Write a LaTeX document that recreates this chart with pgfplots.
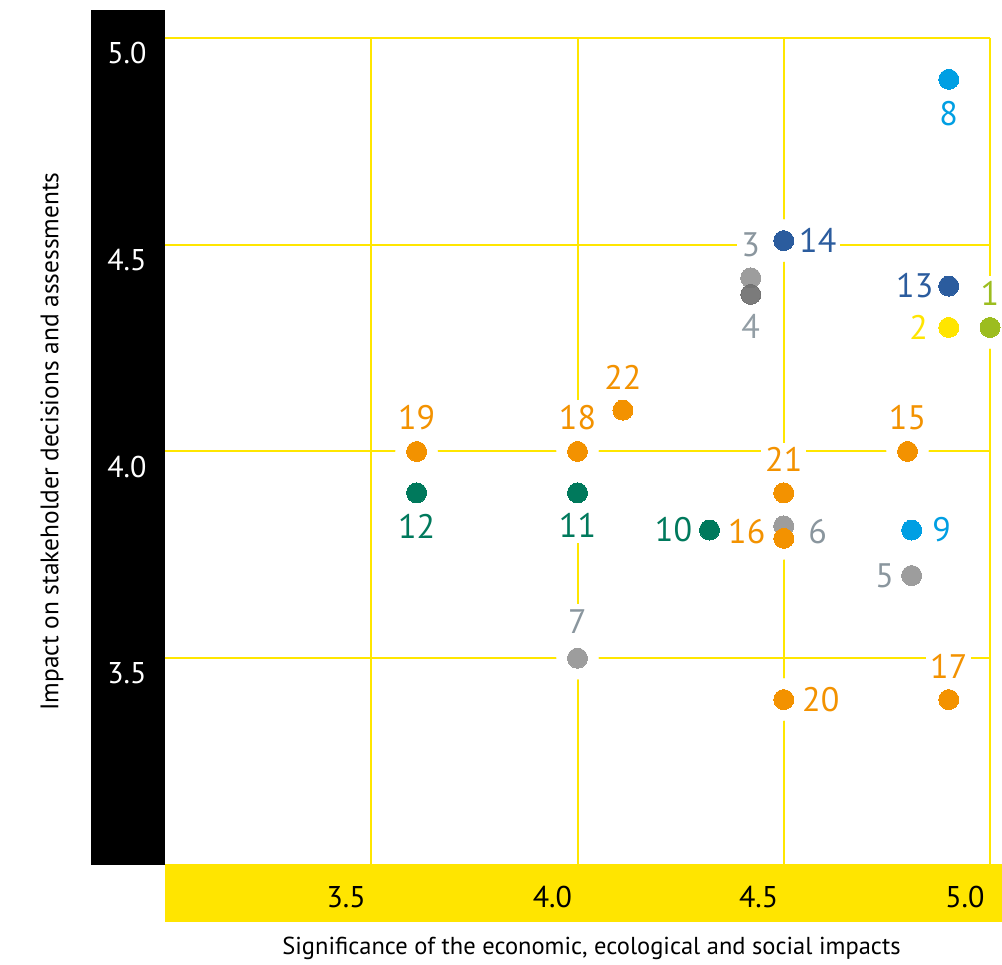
\documentclass[border=0pt]{standalone}
\usepackage{fontspec}
\setmainfont{PT Sans}
\usepackage{pgfplots}
\usepackage{pgfplotstable}
\pgfplotsset{compat=1.18}
\definecolor{cOrange}{HTML}{F39200}
\definecolor{cGray}{HTML}{9D9D9D}
\definecolor{cDGray}{HTML}{707070}
\definecolor{cSlate}{HTML}{8A969E}
\definecolor{cLBlue}{HTML}{009FE3}
\definecolor{cDBlue}{HTML}{2B5C9E}
\definecolor{cDGreen}{HTML}{00795C}
\definecolor{cYellow}{HTML}{FFE500}
\definecolor{cOlive}{HTML}{9CBD1F}
\definecolor{cGrid}{HTML}{FFE600}

% x y label dx dy (label offsets in pt)
\pgfplotstableread{
x y lab dx dy
4.80 4.00 15 0 34
4.50 3.79 16 -37 7
4.90 3.40 17 0 33
4.00 4.00 18 0 34
3.61 4.00 19 0 34
4.50 3.40 20 37 0
4.50 3.90 21 0 33
4.11 4.10 22 0 33
}\tOrange
\pgfplotstableread{
x y lab dx dy
4.42 4.42 3 0 33
4.81 3.70 5 -27 0
4.50 3.82 6 34 -6
4.00 3.50 7 0 37
}\tGray
\pgfplotstableread{
x y lab dx dy
4.42 4.38 4 0 -32
}\tDGray
\pgfplotstableread{
x y lab dx dy
4.90 4.90 8 0 -34
4.81 3.81 9 30 0
}\tLBlue
\pgfplotstableread{
x y lab dx dy
4.90 4.40 13 -34 0
4.50 4.51 14 34 0
}\tDBlue
\pgfplotstableread{
x y lab dx dy
4.32 3.81 10 -36 0
4.00 3.90 11 0 -33
3.61 3.90 12 0 -34
}\tDGreen
\pgfplotstableread{
x y lab dx dy
4.90 4.30 2 -30 0
}\tYel
\pgfplotstableread{
x y lab dx dy
5.00 4.30 1 0 34
}\tOlive

\pgfplotsset{
  pts/.style n args={2}{only marks, mark=*, mark size=10pt, color=#1,
    mark options={draw=#1, fill=#1, line width=0pt},
    nodes near coords, point meta=explicit symbolic,
    visualization depends on={\thisrow{dx} \as \ldx},
    visualization depends on={\thisrow{dy} \as \ldy},
    every node near coord/.append style={anchor=center, xshift=\ldx*1pt, yshift=\ldy*1pt,
      font=\fontsize{34}{36}\selectfont, text=#2, fill=white, inner xsep=4pt, inner ysep=5pt}},
  halo/.style={only marks, mark=*, mark size=21pt, color=white, mark options={draw=white, fill=white}},
}

\begin{document}
\begin{tikzpicture}[tl/.style={font=\fontsize{30}{32}\selectfont}]
\begin{axis}[
  name=a, at={(0,0)}, anchor=south west,
  hide axis,
  scale only axis, width=825pt, height=827pt,
  xmin=3, xmax=5, ymin=3, ymax=5,
  clip=false,
]
% bars
\fill[black] (axis cs:2.8206,3) rectangle (axis cs:3,5.0677);
\fill[cYellow] (axis cs:3,2.862) rectangle (axis cs:5.0291,3.002);
% grid lines
\draw[cGrid, line width=2pt] (axis cs:3,3.5) -- (axis cs:5,3.5);
\draw[cGrid, line width=2pt] (axis cs:3,4.0012) -- (axis cs:5,4.0012);
\draw[cGrid, line width=2pt] (axis cs:3,4.5) -- (axis cs:5,4.5);
\draw[cGrid, line width=2pt] (axis cs:3,5) -- (axis cs:5,5);
\draw[cGrid, line width=2pt] (axis cs:3.5,3) -- (axis cs:3.5,5);
\draw[cGrid, line width=2pt] (axis cs:4.0012,3) -- (axis cs:4.0012,5);
\draw[cGrid, line width=2pt] (axis cs:4.5,3) -- (axis cs:4.5,5);
\draw[cGrid, line width=2pt] (axis cs:5,3) -- (axis cs:5,5);
% tick labels
\node[tl, text=black, anchor=east] at ([xshift=-2pt,yshift=-32pt]axis cs:3.5,3) {3.5};
\node[tl, text=black, anchor=east] at ([xshift=-2pt,yshift=-32pt]axis cs:4,3) {4.0};
\node[tl, text=black, anchor=east] at ([xshift=-2pt,yshift=-32pt]axis cs:4.5,3) {4.5};
\node[tl, text=black, anchor=east] at ([xshift=-2pt,yshift=-32pt]axis cs:5,3) {5.0};
\node[tl, text=white, anchor=north east] at ([xshift=-15pt,yshift=-1pt]axis cs:3,3.5) {3.5};
\node[tl, text=white, anchor=north east] at ([xshift=-15pt,yshift=-1pt]axis cs:3,4) {4.0};
\node[tl, text=white, anchor=north east] at ([xshift=-15pt,yshift=-1pt]axis cs:3,4.5) {4.5};
\node[tl, text=white, anchor=north east] at ([xshift=-15pt,yshift=-1pt]axis cs:3,5) {5.0};
% axis titles
\node[font=\fontsize{24.5}{26}\selectfont] at ([yshift=-83pt]axis description cs:0.517,0) {Significance of the economic, ecological and social impacts};
\node[font=\fontsize{25.4}{27}\selectfont, rotate=90] at ([xshift=-113pt]axis description cs:0,0.512) {Impact on stakeholder decisions and assessments};
% halos
\addplot[halo] table[x=x,y=y] {\tOrange};
\addplot[halo] table[x=x,y=y] {\tGray};
\addplot[halo] table[x=x,y=y] {\tDGray};
\addplot[halo] table[x=x,y=y] {\tLBlue};
\addplot[halo] table[x=x,y=y] {\tDBlue};
\addplot[halo] table[x=x,y=y] {\tDGreen};
\addplot[halo] table[x=x,y=y] {\tYel};
\addplot[halo] table[x=x,y=y] {\tOlive};
% points
\addplot[pts={cGray}{cSlate}] table[x=x,y=y,meta=lab] {\tGray};
\addplot[pts={cDGray}{cSlate}, opacity=0.92] table[x=x,y=y,meta=lab] {\tDGray};
\addplot[pts={cOrange}{cOrange}] table[x=x,y=y,meta=lab] {\tOrange};
\addplot[pts={cLBlue}{cLBlue}] table[x=x,y=y,meta=lab] {\tLBlue};
\addplot[pts={cDBlue}{cDBlue}] table[x=x,y=y,meta=lab] {\tDBlue};
\addplot[pts={cDGreen}{cDGreen}] table[x=x,y=y,meta=lab] {\tDGreen};
\addplot[pts={cYellow}{cYellow}] table[x=x,y=y,meta=lab] {\tYel};
\addplot[pts={cOlive}{cOlive}] table[x=x,y=y,meta=lab] {\tOlive};
\end{axis}
\pgfresetboundingbox
\path[use as bounding box] (-165pt,-100pt) rectangle (837pt,865pt);
\end{tikzpicture}
\end{document}
